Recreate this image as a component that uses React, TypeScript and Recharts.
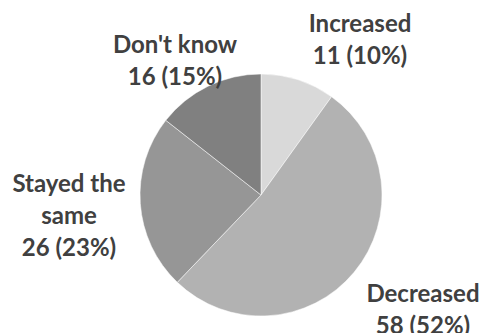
import React from "react";
import { PieChart, Pie, Cell } from "recharts";

const categories = ["Increased", "Decreased", "Stayed the same", "Don't know"];
const counts = [11, 58, 26, 16];
const percents = ["10%", "52%", "23%", "15%"];
const labelLines = [["Increased"], ["Decreased"], ["Stayed the", "same"], ["Don't know"]];

const colors = ["#d9d9d9", "#b2b2b2", "#969696", "#808080"];
// label anchor offsets relative to pie centre (x centre, first baseline)
const labelOffsets = [
  [99, -163],
  [162, 107],
  [-192, -3],
  [-86, -142],
];

const data = categories.map((name, i) => ({ name, value: counts[i] }));

const CX = 261;
const CY = 195;
const LINE = 32;

const renderLabel = (props: any) => {
  const { index, cx, cy } = props;
  const [ox, oy] = labelOffsets[index];
  const lines = [...labelLines[index], `${counts[index]} (${percents[index]})`];
  return (
    <text
      x={cx + ox}
      y={cy + oy}
      textAnchor="middle"
      fill="#404040"
      style={{ fontFamily: "Lato", fontWeight: 700, fontSize: 24 }}
    >
      {lines.map((l, j) => (
        <tspan key={j} x={cx + ox} dy={j === 0 ? 0 : LINE}>
          {l}
        </tspan>
      ))}
    </text>
  );
};

export default function App() {
  return (
    <div style={{ position: "absolute", left: 0, top: 0, width: 485, height: 333, background: "#fff" }}>
      <PieChart width={485} height={333} margin={{ top: 0, right: 0, bottom: 0, left: 0 }}>
        <Pie
          data={data}
          dataKey="value"
          nameKey="name"
          cx={CX}
          cy={CY}
          outerRadius={121}
          startAngle={90}
          endAngle={-270}
          stroke="#ffffff"
          strokeWidth={0.5}
          label={renderLabel}
          labelLine={false}
          isAnimationActive={false}
        >
          {data.map((d, i) => (
            <Cell key={d.name} fill={colors[i]} />
          ))}
        </Pie>
      </PieChart>
    </div>
  );
}
